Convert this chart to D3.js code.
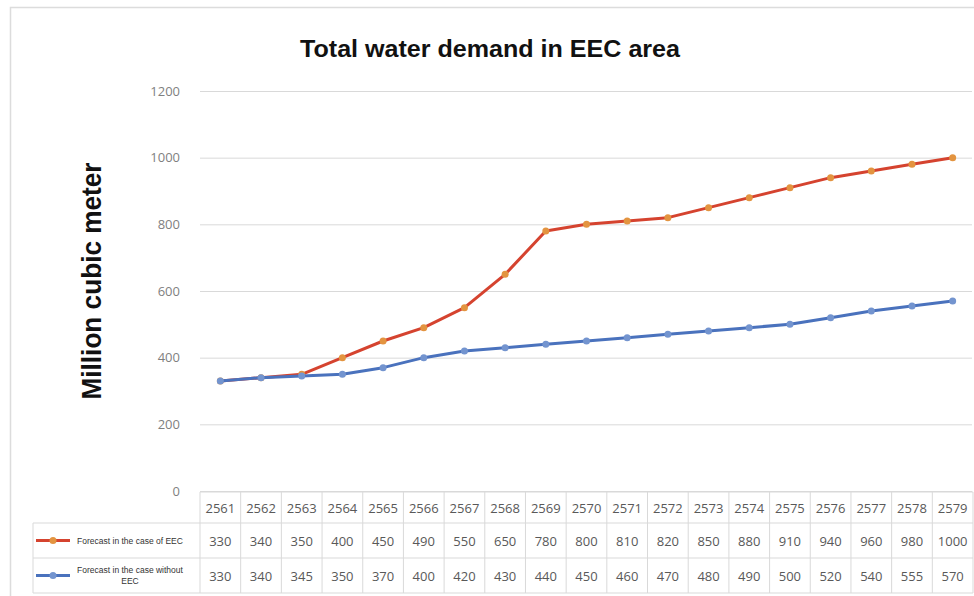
<!DOCTYPE html>
<html>
<head>
<meta charset="utf-8">
<script src="https://cdn.jsdelivr.net/npm/d3@7"></script>
<style>
	body { margin: 0; background: #fff; }
	svg { display: block; }
</style>
</head>
<body>
<svg id="chart" width="974" height="596"></svg>
<script>
// data
const years = ["2561","2562","2563","2564","2565","2566","2567","2568","2569","2570","2571","2572","2573","2574","2575","2576","2577","2578","2579"]
const eecValues = [330,340,350,400,450,490,550,650,780,800,810,820,850,880,910,940,960,980,1000]
const noEecValues = [330,340,345,350,370,400,420,430,440,450,460,470,480,490,500,520,540,555,570]
const yTicks = [0,200,400,600,800,1000,1200]

const series = [
	{ name: ["Forecast in the case of EEC"], values: eecValues, line: "#d5432f", dot: "#e39440" },
	{ name: ["Forecast in the case without", "EEC"], values: noEecValues, line: "#4a72bd", dot: "#7394cf" }
]

const svg = d3.select("#chart")
const numFont = "'Open Sans', sans-serif"

// outer frame (top and left edge visible)
svg.append("path")
	.attr("d", "M10.5,596 V7.5 H974")
	.attr("fill", "none")
	.attr("stroke", "#dcdcdc")
	.attr("stroke-width", 1.5)

// scales
const xScale = d3.scaleBand()
	.domain(years)
	.range([200, 973])

const yScale = d3.scaleLinear()
	.domain([0, 1200])
	.range([491, 91])

// gridlines + y labels
const yAxis = svg.append("g")
	.attr("transform", "translate(200,0)")
	.call(d3.axisLeft(yScale).tickValues(yTicks).tickFormat(d3.format("d")).tickSize(-772).tickPadding(20))
yAxis.select(".domain").remove()
yAxis.selectAll(".tick line").attr("stroke", "#d9d9d9").attr("stroke-width", 1)
yAxis.selectAll(".tick text")
	.attr("fill", "#7f7f7f")
	.style("font-family", numFont)
	.style("font-size", "13px")

// title
svg.append("text")
	.attr("x", 490)
	.attr("y", 57)
	.attr("text-anchor", "middle")
	.attr("textLength", 380)
	.attr("lengthAdjust", "spacingAndGlyphs")
	.style("font-family", "'Liberation Sans', Arial, sans-serif")
	.style("font-weight", "bold")
	.style("font-size", "24px")
	.attr("fill", "#111")
	.text("Total water demand in EEC area")

// y title
svg.append("text")
	.attr("transform", "translate(101,281) rotate(-90)")
	.attr("text-anchor", "middle")
	.attr("textLength", 237)
	.attr("lengthAdjust", "spacingAndGlyphs")
	.style("font-family", "'Liberation Sans', Arial, sans-serif")
	.style("font-weight", "bold")
	.style("font-size", "27px")
	.attr("fill", "#111")
	.text("Million cubic meter")

// lines
const line = d3.line()
	.x((d, i) => xScale(years[i]) + xScale.bandwidth() / 2)
	.y(d => yScale(d))

series.forEach(s => {
	svg.append("path")
		.datum(s.values)
		.attr("fill", "none")
		.attr("stroke", s.line)
		.attr("stroke-width", 3)
		.attr("stroke-linejoin", "round")
		.attr("d", line)

	svg.append("g")
		.selectAll("circle")
		.data(s.values)
		.join("circle")
		.attr("cx", (d, i) => xScale(years[i]) + xScale.bandwidth() / 2)
		.attr("cy", d => yScale(d))
		.attr("r", 3.5)
		.attr("fill", s.dot)
})

// data table
const rowTops = [492, 523, 558, 593]
const legendLeft = 33
const grid = "#d9d9d9"
const table = svg.append("g")

// horizontal rules
rowTops.forEach((y, i) => {
	table.append("line")
		.attr("x1", i === 0 ? 200 : legendLeft)
		.attr("x2", 973)
		.attr("y1", y).attr("y2", y)
		.attr("stroke", grid)
})
// vertical rules
const colEdges = years.map(d => xScale(d)).concat([xScale.range()[1]])
colEdges.forEach(x => {
	table.append("line")
		.attr("x1", x).attr("x2", x)
		.attr("y1", rowTops[0]).attr("y2", rowTops[3])
		.attr("stroke", grid)
})
table.append("line")
	.attr("x1", legendLeft).attr("x2", legendLeft)
	.attr("y1", rowTops[1]).attr("y2", rowTops[3])
	.attr("stroke", grid)

// header years
table.selectAll(".yr")
	.data(years)
	.join("text")
	.attr("class", "yr")
	.attr("x", d => xScale(d) + xScale.bandwidth() / 2)
	.attr("y", (rowTops[0] + rowTops[1]) / 2 + 5)
	.attr("text-anchor", "middle")
	.style("font-family", numFont)
	.style("font-size", "13px")
	.attr("fill", "#595959")
	.text(d => d)

series.forEach((s, r) => {
	const yMid = (rowTops[r + 1] + rowTops[r + 2]) / 2

	table.append("g")
		.selectAll("text")
		.data(s.values)
		.join("text")
		.attr("x", (d, i) => xScale(years[i]) + xScale.bandwidth() / 2)
		.attr("y", yMid + 5)
		.attr("text-anchor", "middle")
		.style("font-family", numFont)
		.style("font-size", "13px")
		.attr("fill", "#595959")
		.text(d => d)

	// legend key
	table.append("line")
		.attr("x1", 36).attr("x2", 70)
		.attr("y1", yMid).attr("y2", yMid)
		.attr("stroke", s.line)
		.attr("stroke-width", 3)
	table.append("circle")
		.attr("cx", 53).attr("cy", yMid)
		.attr("r", 3.5)
		.attr("fill", s.dot)

	const lab = table.append("text")
		.attr("text-anchor", "middle")
		.style("font-family", "'Liberation Sans', Arial, sans-serif")
		.style("font-size", "8.5px")
		.attr("fill", "#333")
	s.name.forEach((t, k) => {
		lab.append("tspan")
			.attr("x", 130)
			.attr("y", yMid + 3 + (k - (s.name.length - 1) / 2) * 11)
			.text(t)
	})
})
</script>
</body>
</html>
